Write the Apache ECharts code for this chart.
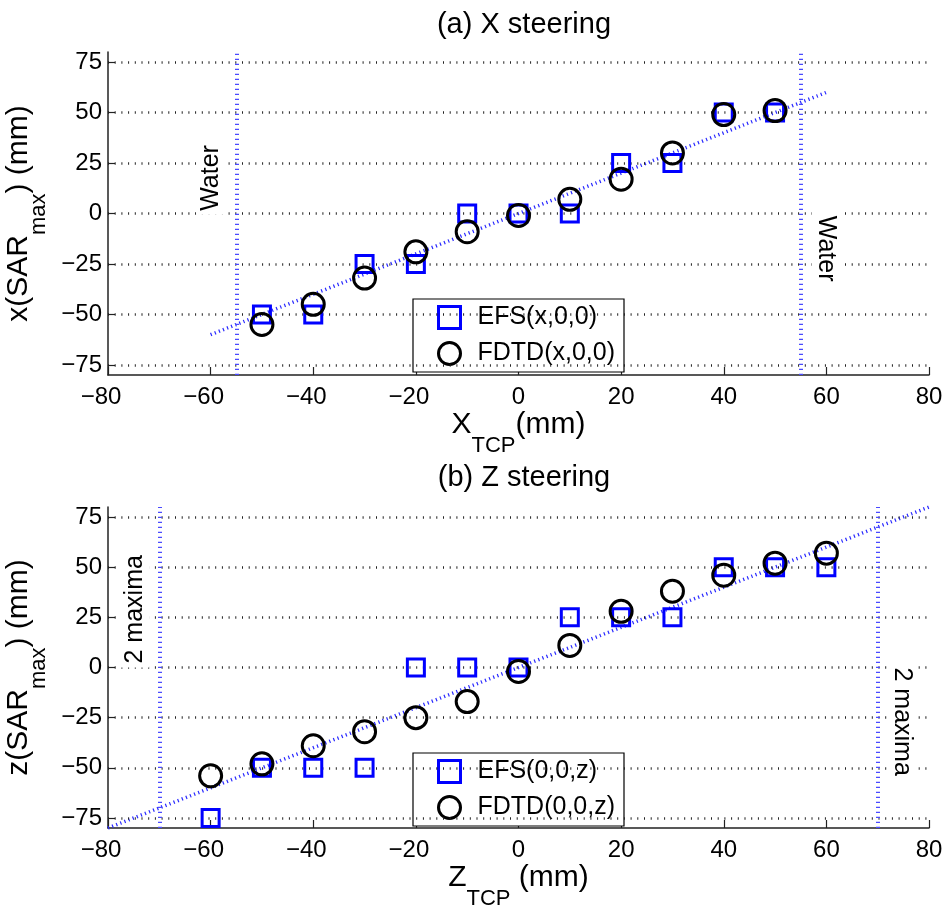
<!DOCTYPE html>
<html>
<head>
<meta charset="utf-8">
<script src="https://cdn.jsdelivr.net/npm/echarts@6/dist/echarts.min.js"></script>
<style>
  html, body {margin: 0; padding: 0; background: #fff;}
  #chart {width: 949px; height: 911px;}
</style>
</head>
<body>
<div id="chart"></div>
<script>
// (a) X steering
var xTcp = [-50, -40, -30, -20, -10, 0, 10, 20, 30, 40, 50];
var efsX = [-50, -50, -25, -25, 0, 0, 0, 25, 25, 50, 50];
var fdtdX = [-55, -45, -32, -19, -9, -1, 7, 17, 30, 49, 51];
var fitXa = [-60, 60];
var waterX = [-55, 55];

// (b) Z steering
var zTcp = [-60, -50, -40, -30, -20, -10, 0, 10, 20, 30, 40, 50, 60];
var efsZ = [-75, -50, -50, -50, 0, 0, 0, 25, 25, 25, 50, 50, 50];
var fdtdZ = [-54, -48, -39, -32, -25, -17, -2, 11, 28, 38, 46, 52, 57];
var fitZa = [-80, 80];
var maximaZ = [-70, 70];

// axes
var xTicks = [-80, -60, -40, -20, 0, 20, 40, 60, 80];
var yTicks = [-75, -50, -25, 0, 25, 50, 75];

var FONT = 'Liberation Sans';
var BLUE = '#0000ff';

function minus(v) {
    return String(v).replace('-', '\u2212');
}
// matlab centres the digits, the minus sign hangs out to the left
function minusX(v) {
    if (v < 0) return '{n|\u2212' + (-v) + '}{gap|}';
    return '{n|' + v + '}';
}
function pairs(xs, ys) {
    var out = [];
    for (var i = 0; i < xs.length; i++) out.push([xs[i], ys[i]]);
    return out;
}
var nameRich = {
    a: {fontFamily: FONT, fontSize: 30, lineHeight: 30, color: '#000', verticalAlign: 'top'},
    sub: {fontFamily: FONT, fontSize: 22, lineHeight: 22, color: '#000', verticalAlign: 'top', padding: [25, 0, 0, 0]}
};

function xAxisOf(idx, name) {
    return {
        gridIndex: idx, type: 'value', min: xTicks[0], max: xTicks[xTicks.length - 1], interval: 20,
        name: name, nameLocation: 'middle', nameGap: 32,
        nameTextStyle: {rich: nameRich},
        axisLine: {onZero: false, lineStyle: {color: '#222', width: 1.5}},
        axisTick: {inside: true, length: 8, lineStyle: {color: '#222', width: 1.2}},
        axisLabel: {
            margin: 10, formatter: minusX,
            rich: {
                n: {fontFamily: FONT, fontSize: 24, color: '#000'},
                gap: {width: 14}
            }
        },
        splitLine: {show: false}
    };
}
function yAxisOf(idx, name) {
    return {
        gridIndex: idx, type: 'value', min: -80, max: 80,
        name: name, nameLocation: 'middle', nameGap: 58, nameRotate: 90,
        nameTextStyle: {rich: nameRich},
        axisLine: {onZero: false, lineStyle: {color: '#222', width: 1.5}},
        axisTick: {inside: true, length: 7, customValues: yTicks, lineStyle: {color: '#222', width: 1.2}},
        axisLabel: {fontFamily: FONT, fontSize: 24, color: '#000', margin: 6, customValues: yTicks, formatter: minus},
        splitLine: {show: false}
    };
}

function gridSeries(idx) {
    // dotted horizontal grid lines at the tick values
    return {
        type: 'line', xAxisIndex: idx, yAxisIndex: idx, data: [], silent: true, z: 1,
        markLine: {
            silent: true, symbol: ['none', 'none'], label: {show: false}, animation: false,
            lineStyle: {color: '#222', width: 2.5, type: [1, 5.7]},
            emphasis: {disabled: true},
            data: yTicks.map(function (v) { return {yAxis: v}; })
        }
    };
}
function boundSeries(idx, xs, text, labelPos) {
    return {
        type: 'line', xAxisIndex: idx, yAxisIndex: idx, data: [], silent: true, z: 3,
        markLine: {
            silent: true, symbol: ['none', 'none'], label: {show: false}, animation: false,
            lineStyle: {color: '#4a4aff', width: 4, type: [1.2, 3.8]},
            emphasis: {disabled: true},
            data: xs.map(function (v) { return {xAxis: v}; })
        },
        markPoint: {
            silent: true, symbol: 'rect', symbolSize: 0, animation: false,
            label: {
                show: true, position: 'inside', formatter: text,
                fontFamily: FONT, fontSize: 25, color: '#000',
                backgroundColor: '#fff', padding: [2, 4]
            },
            data: [
                {coord: labelPos[0], label: {rotate: 90}},
                {coord: labelPos[1], label: {rotate: -90}}
            ]
        }
    };
}
function fitSeries(idx, xs) {
    return {
        type: 'line', xAxisIndex: idx, yAxisIndex: idx, data: pairs(xs, xs),
        symbol: 'none', silent: true, z: 4, animation: false,
        lineStyle: {color: '#2a2aff', width: 3.5, type: [1.2, 3.2], cap: 'butt'}
    };
}
function markerSeries(idx, name, xs, ys, isSquare) {
    return {
        name: name, type: 'scatter', xAxisIndex: idx, yAxisIndex: idx,
        data: pairs(xs, ys), z: isSquare ? 5 : 6, animation: false,
        symbol: isSquare ? 'rect' : 'circle', symbolSize: isSquare ? 17 : 22,
        itemStyle: {color: 'rgba(0,0,0,0)', borderColor: isSquare ? BLUE : '#000', borderWidth: 3, opacity: 1},
        emphasis: {disabled: true}
    };
}
function legendOf(top, names) {
    return {
        orient: 'vertical', left: 413, top: top, selectedMode: false,
        itemWidth: 22, itemHeight: 22, itemGap: 11,
        padding: [6, 9, 6, 24],
        borderColor: '#000', borderWidth: 1.2, backgroundColor: '#fff',
        textStyle: {fontFamily: FONT, fontSize: 25, color: '#000', padding: [0, 0, 0, 12]},
        data: [
            {name: names[0], icon: 'rect', itemStyle: {color: '#fff', borderColor: BLUE, borderWidth: 3}},
            {name: names[1], icon: 'circle', itemStyle: {color: '#fff', borderColor: '#000', borderWidth: 3}}
        ]
    };
}

var myChart = echarts.init(document.getElementById('chart'));
myChart.setOption({
    backgroundColor: '#fff',
    animation: false,
    title: [
        {text: '(a) X steering', left: 519, top: 5, textAlign: 'center',
            textStyle: {fontFamily: FONT, fontSize: 29, fontWeight: 'normal', color: '#000'}},
        {text: '(b) Z steering', left: 519, top: 458, textAlign: 'center',
            textStyle: {fontFamily: FONT, fontSize: 29, fontWeight: 'normal', color: '#000'}}
    ],
    legend: [
        legendOf(299, ['EFS(x,0,0)', 'FDTD(x,0,0)']),
        legendOf(753, ['EFS(0,0,z)', 'FDTD(0,0,z)'])
    ],
    grid: [
        {left: 108, right: 20, top: 52, height: 323, containLabel: false, outerBoundsMode: 'none'},
        {left: 108, right: 20, top: 507, height: 321, containLabel: false, outerBoundsMode: 'none'}
    ],
    xAxis: [
        xAxisOf(0, '{a|X}{sub|TCP}{a|(mm)}'),
        xAxisOf(1, '{a|Z}{sub|TCP}{a| (mm)}')
    ],
    yAxis: [
        yAxisOf(0, '{a|x(SAR}{sub|max}{a|) (mm)}'),
        yAxisOf(1, '{a|z(SAR}{sub|max}{a|) (mm)}')
    ],
    series: [
        gridSeries(0),
        boundSeries(0, waterX, 'Water', [[-60, 17.6], [60, -17.4]]),
        fitSeries(0, fitXa),
        markerSeries(0, 'EFS(x,0,0)', xTcp, efsX, true),
        markerSeries(0, 'FDTD(x,0,0)', xTcp, fdtdX, false),

        gridSeries(1),
        boundSeries(1, maximaZ, '2 maxima', [[-74.7, 29], [74.7, -27]]),
        fitSeries(1, fitZa),
        markerSeries(1, 'EFS(0,0,z)', zTcp, efsZ, true),
        markerSeries(1, 'FDTD(0,0,z)', zTcp, fdtdZ, false)
    ]
});
</script>
</body>
</html>
